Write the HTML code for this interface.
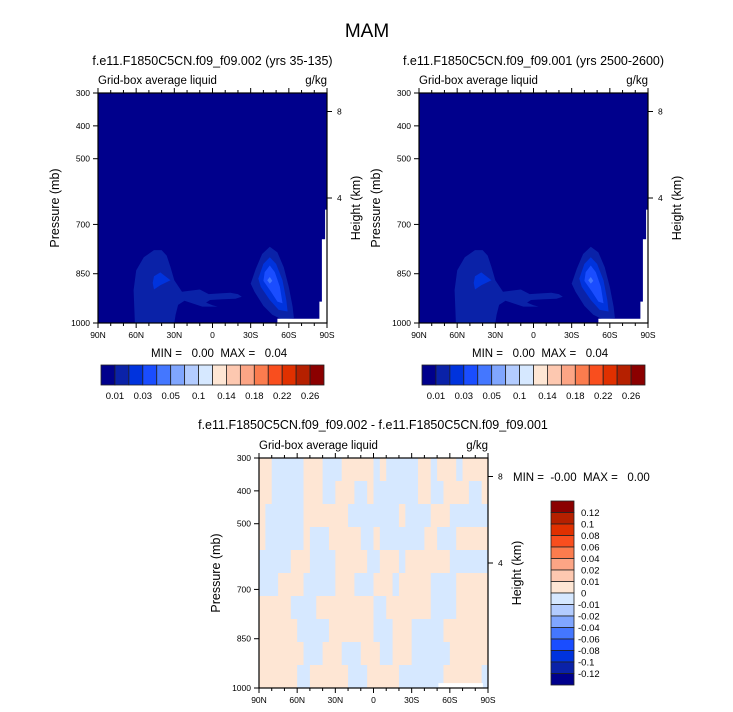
<!DOCTYPE html>
<html><head><meta charset="utf-8">
<style>
html,body{margin:0;padding:0;background:#fff;}
svg{display:block;font-family:"Liberation Sans",Arial,sans-serif;}
</style></head>
<body>
<svg id="chart" width="733" height="712" viewBox="0 0 733 712" xmlns="http://www.w3.org/2000/svg">
<text x="367" y="37" font-size="19" text-anchor="middle">MAM</text>
<text x="151" y="357" font-size="11.5">MIN =&#160;&#160; 0.00&#160; MAX =&#160;&#160; 0.04</text>
<text x="472" y="357" font-size="11.5">MIN =&#160;&#160; 0.00&#160; MAX =&#160;&#160; 0.04</text>
<text x="373" y="429" font-size="12.5" text-anchor="middle">f.e11.F1850C5CN.f09_f09.002 - f.e11.F1850C5CN.f09_f09.001</text>
<text x="513" y="481" font-size="11.5">MIN =&#160; -0.00&#160; MAX =&#160;&#160; 0.00</text>
</svg>
<script>
// ---------- data arrays ----------
const pressureTicks = [300, 400, 500, 700, 850, 1000];
const latTicks = [90, 60, 30, 0, -30, -60, -90];
const latTickLabels = ["90N", "60N", "30N", "0", "30S", "60S", "90S"];
const heightTicks = [8, 4];
const liquidLevels = ["0.01","0.03","0.05","0.1","0.14","0.18","0.22","0.26"];
const liquidColors = ["#00008c","#0a22a8","#0033dd","#1a4dff","#4477ff","#80a6ff","#b3ccff","#d6e8ff","#fee6d4","#fdc8b0","#fca585","#fb7c4e","#f94e1e","#e03000","#b52000","#8b0000"];
const diffLevels = ["0.12","0.1","0.08","0.06","0.04","0.02","0.01","0","-0.01","-0.02","-0.04","-0.06","-0.08","-0.1","-0.12"];
const blobNHOuter = [[61,1000],[62,900],[60,840],[54,800],[46,778],[40,778],[36,795],[33,830],[30,870],[24,905],[18,902],[10,898],[3,912],[-6,910],[-14,908],[-20,912],[-23,920],[-18,926],[-8,928],[2,930],[5,938],[0,946],[-4,950],[8,950],[16,940],[22,932],[27,945],[29,975],[30,1000]];
const blobNHInner = [[46,858],[41,846],[33,870],[41,885],[46,898],[47,878]];
const blobSHOuter = [[-45,768],[-51,785],[-56,830],[-60,890],[-63,950],[-64,985],[-55,990],[-47,975],[-40,948],[-33,905],[-30,880],[-34,835],[-39,790]];
const blobSHMid = [[-45,800],[-50,820],[-55,870],[-58,930],[-59,965],[-52,960],[-45,930],[-38,890],[-36,865],[-40,820]];
const blobSHIn2 = [[-45,825],[-49,845],[-53,890],[-55,940],[-51,935],[-46,905],[-40,872],[-41,845]];
const blobSHIn3 = [[-45,860],[-47,872],[-45,880],[-43,870]];
const missingMask = [[-51,987],[-84,987],[-84,935],[-86,935],[-86,745],[-88.5,745],[-88.5,655],[-90,655],[-90,1000],[-51,1000]];
const missingMaskDiff = [[-51,985],[-86,985],[-86,1000],[-51,1000]];
const diffRows = [
"oobbbbbooobbbooooobobbbbbooboooboooo",
"oobbbbbooobbooobbobbbbbbboobboooobbo",
"obbbbbbooooooobbbbbbbbobbbbooobbbbbb",
"obbbbbbobbbooooobbobbbbbbboobbbooooo",
"bbbbbooobbbbooooobbooobooooooobbbbbb",
"bbboooobbbbbooobbbooobooooobbbbooooo",
"ooooobbbbooooooooobbooooooobbbbooooo",
"oooooobbbbbooooooobbbooobbbbbooooooo",
"ooooooobbbooobbbooobbooobbbbbboooooo",
"oooooobboooooobbbooooobbbbbbboooooob"
];
const diffColorsPos = "#fee6d4";
const diffColorsNeg = "#d6e8ff";
</script>
<script>
var svgRoot = document.getElementById('chart');
var SVGNS = "http://www.w3.org/2000/svg";
function mk(tag, attrs, parent){ var e=document.createElementNS(SVGNS,tag); for(var k in attrs) e.setAttribute(k,String(attrs[k])); (parent||svgRoot).appendChild(e); return e; }
function txt(s, attrs, parent){ var e=mk('text',attrs,parent); e.textContent=s; return e; }
function makeAxes(ox, oy){
  var W=229,H=230;
  return { ox:ox, oy:oy, W:W, H:H,
    x: function(lat){ return ox + (90-lat)/180*W; },
    y: function(p){ return oy + (p-300)/700*H; },
    hy: function(km){ return oy + 18.5 + (8-km)/4*86.5; } };
}
function poly(ax, pts, fill, g, name){
  var e = mk('polygon',{points: pts.map(function(p){return ax.x(p[0]).toFixed(1)+','+ax.y(p[1]).toFixed(1);}).join(' '), fill: fill}, g);
  
  
}
function frame(ax, g, title){
  var ox=ax.ox, oy=ax.oy, W=ax.W, H=ax.H;
  var b = mk('rect',{x:ox,y:oy,width:W,height:H,fill:'none',stroke:'#000','stroke-width':1.2},g);
  
  
  for(var lat=90; lat>=-90; lat-=10){
    var L = (lat%30===0)?5:3; var X=ax.x(lat);
    mk('line',{x1:X,x2:X,y1:oy+H,y2:oy+H+L,stroke:'#000','stroke-width':1},g);
    mk('line',{x1:X,x2:X,y1:oy,y2:oy-L,stroke:'#000','stroke-width':1},g);
  }
  latTicks.forEach(function(lt,i){
    var e=txt(latTickLabels[i],{x:ax.x(lt),y:oy+H+15,'font-size':8.5,'text-anchor':'middle'},g);
    
    
  });
  pressureTicks.forEach(function(p){
    var Y=ax.y(p);
    mk('line',{x1:ox-5,x2:ox,y1:Y,y2:Y,stroke:'#000','stroke-width':1},g);
    var e=txt(String(p),{x:ox-8,y:Y+3,'font-size':8.5,'text-anchor':'end'},g);
    
    
  });
  heightTicks.forEach(function(km){
    var Y=ax.hy(km);
    mk('line',{x1:ox+W,x2:ox+W+5,y1:Y,y2:Y,stroke:'#000','stroke-width':1},g);
    var e=txt(String(km),{x:ox+W+10,y:Y+3,'font-size':8.5},g);
    
    
  });
  if(title){
    var e1=txt(title,{x:ox+W/2,y:oy-28,'font-size':12.5,'text-anchor':'middle'},g);
    
    
  }
  var e2=txt('Grid-box average liquid',{x:ox,y:oy-9,'font-size':11.5},g);
  
  
  var e3=txt('g/kg',{x:ox+W,y:oy-9,'font-size':11.5,'text-anchor':'end'},g);
  
  
  var e4=txt('Pressure (mb)',{x:0,y:0,'font-size':12.5,'text-anchor':'middle',transform:'translate('+(ox-39)+','+(oy+H/2)+') rotate(-90)'},g);
  
  
  var e5=txt('Height (km)',{x:0,y:0,'font-size':12.5,'text-anchor':'middle',transform:'translate('+(ox+W+33)+','+(oy+H/2)+') rotate(-90)'},g);
  
  
}
function liquidPanel(ox, oy, title, name){
  var g = mk('g',{});
  
  
  var ax = makeAxes(ox,oy);
  mk('rect',{x:ox,y:oy,width:ax.W,height:ax.H,fill:liquidColors[0]},g);
  poly(ax, blobNHOuter, liquidColors[1], g, 'contour-nh-outer');
  poly(ax, blobNHInner, liquidColors[2], g, 'contour-nh-inner');
  poly(ax, blobSHOuter, liquidColors[1], g, 'contour-sh-outer');
  poly(ax, blobSHMid, liquidColors[2], g, 'contour-sh-mid');
  poly(ax, blobSHIn2, liquidColors[3], g, 'contour-sh-inner');
  poly(ax, blobSHIn3, liquidColors[4], g, 'contour-sh-core');
  poly(ax, missingMask, '#ffffff', g, 'missing-data');
  frame(ax, g, title);
  var cb = mk('g',{},g);
  
  
  var cx0=ox+3, cw=223/liquidColors.length, cy=oy+ax.H+42;
  liquidColors.forEach(function(c,i){
    var r=mk('rect',{x:cx0+i*cw,y:cy,width:cw,height:20,fill:c,stroke:'#222','stroke-width':0.8},cb);
    
    
  });
  liquidLevels.forEach(function(l,i){
    var e=txt(l,{x:cx0+(2*i+1)*cw,y:cy+34,'font-size':9.5,'text-anchor':'middle'},cb);
    
    
  });
}
try { liquidPanel(98,93,'f.e11.F1850C5CN.f09_f09.002 (yrs 35-135)','panel-model-002'); } catch(err) {}
try { liquidPanel(419,93,'f.e11.F1850C5CN.f09_f09.001 (yrs 2500-2600)','panel-model-001'); } catch(err) {}
try {
  var gd = mk('g',{});
  
  
  var axd = makeAxes(259,458);
  var nR=diffRows.length, nC=diffRows[0].length;
  for(var r=0;r<nR;r++){
    for(var c=0;c<nC;c++){
      var lat0 = 90 - c*180/nC, lat1 = 90-(c+1)*180/nC;
      var p0 = 300 + r*700/nR, p1 = 300+(r+1)*700/nR;
      var cell=mk('rect',{x:axd.x(lat0),y:axd.y(p0),width:axd.x(lat1)-axd.x(lat0)+0.5,height:axd.y(p1)-axd.y(p0)+0.5,
        fill: diffRows[r].charAt(c)==='o'?diffColorsPos:diffColorsNeg},gd);
      
      
    }
  }
  poly(axd, missingMaskDiff, '#ffffff', gd, 'missing-data');
  frame(axd, gd, '');
  var cbd = mk('g',{},gd);
  
  
  var bx=551, by=501, bh=184/16;
  for(var i=0;i<16;i++){
    var box=mk('rect',{x:bx,y:by+i*bh,width:23,height:bh,fill:liquidColors[15-i],stroke:'#222','stroke-width':0.8},cbd);
    
    
  }
  diffLevels.forEach(function(l,i){
    var e=txt(l,{x:l.charAt(0)==='-'?578:581,y:by+(i+1)*bh+3.5,'font-size':9.5},cbd);
    
    
  });
} catch(err) {}
</script>
</body></html>
